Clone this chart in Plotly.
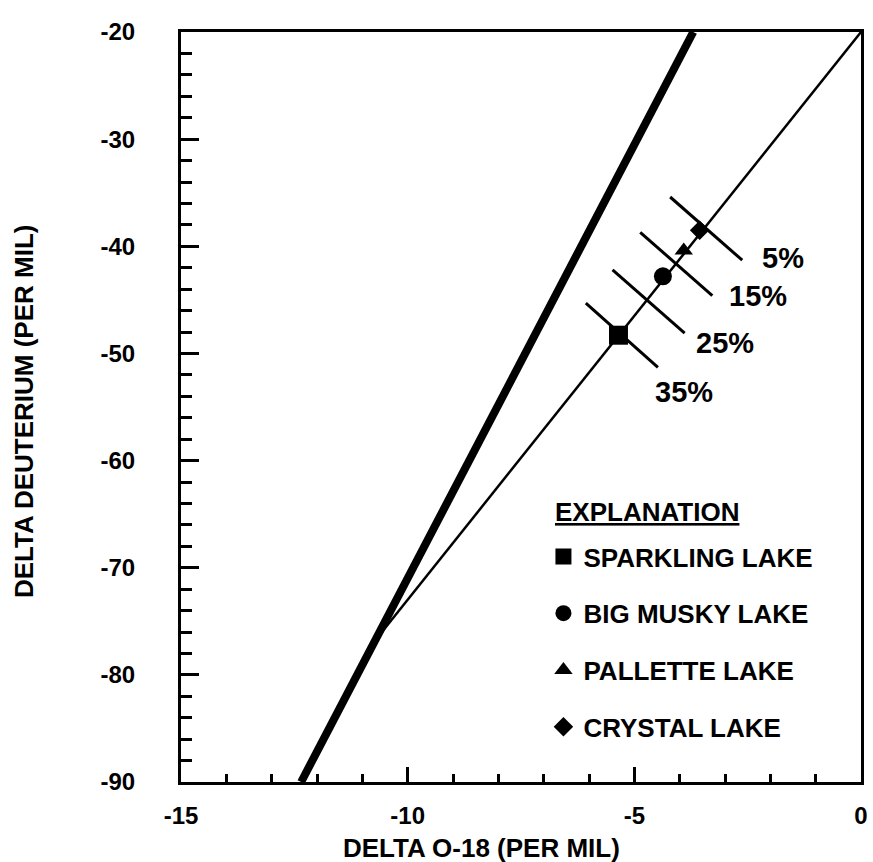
import plotly.graph_objects as go

# Lake samples (delta O-18, delta deuterium), per mil
lakes = ["SPARKLING LAKE", "BIG MUSKY LAKE", "PALLETTE LAKE", "CRYSTAL LAKE"]
lake_o18 = [-5.35, -4.37, -3.91, -3.56]
lake_dd = [-48.3, -42.8, -40.4, -38.5]
lake_symbols = ["square", "circle", "triangle-up", "diamond"]
lake_sizes = [19, 18, 16, 15]

# Meteoric water line (heavy) and evaporation line (light)
mwl_o18 = [-12.35, -3.7]
mwl_dd = [-90.0, -20.0]
evap_o18 = [-10.7, 0.0]
evap_dd = [-76.7, -20.0]

# Evaporated-fraction marks crossing the evaporation line
frac_labels = ["5%", "15%", "25%", "35%"]
frac_x0 = [-4.21, -4.87, -5.48, -6.07]
frac_y0 = [-35.4, -38.7, -42.2, -45.3]
frac_x1 = [-2.62, -3.28, -3.89, -4.48]
frac_y1 = [-41.3, -44.6, -48.1, -51.3]
frac_label_x = [-2.22, -2.95, -3.68, -4.58]
frac_label_y = [-41.1, -44.6, -49.0, -53.6]

# Axis ticks
x_ticks = [-15, -10, -5, 0]
x_tick_text = ["-15", "-10", "-5", "0"]
y_ticks = [-90, -80, -70, -60, -50, -40, -30, -20]
y_tick_text = ["-90", "-80", "-70", "-60", "-50", "-40", "-30", "-20"]

FONT = "Liberation Sans"
fig = go.Figure()

fig.add_trace(go.Scatter(x=mwl_o18, y=mwl_dd, mode="lines",
                         line=dict(color="black", width=8), showlegend=False,
                         hoverinfo="skip"))
fig.add_trace(go.Scatter(x=evap_o18, y=evap_dd, mode="lines",
                         line=dict(color="black", width=2.5), showlegend=False,
                         hoverinfo="skip"))

for x0, y0, x1, y1 in zip(frac_x0, frac_y0, frac_x1, frac_y1):
    fig.add_trace(go.Scatter(x=[x0, x1], y=[y0, y1], mode="lines",
                             line=dict(color="black", width=3),
                             showlegend=False, hoverinfo="skip"))

for name, x, y, sym, sz in zip(lakes, lake_o18, lake_dd, lake_symbols, lake_sizes):
    fig.add_trace(go.Scatter(x=[x], y=[y], mode="markers", name=name,
                             legendgroup=name,
                             marker=dict(symbol=sym, size=sz, color="black",
                                         line=dict(width=0))))

for lab, x, y in zip(frac_labels, frac_label_x, frac_label_y):
    fig.add_annotation(x=x, y=y, text=lab, showarrow=False,
                       xanchor="left", yanchor="middle",
                       font=dict(family=FONT, size=29, color="black",
                                 weight="bold"))

# Legend heading
fig.add_annotation(x=(557 - 181) / 687, y=1 - (512 - 32) / 750,
                   xref="paper", yref="paper", text="<u>EXPLANATION</u>",
                   showarrow=False, xanchor="left", yanchor="middle",
                   font=dict(family=FONT, size=26, color="black", weight="bold"))

# Axis titles
fig.add_annotation(x=(485 - 181) / 687, y=-0.088, xref="paper", yref="paper",
                   text="DELTA O-18 (PER MIL)", showarrow=False,
                   xanchor="center", yanchor="middle",
                   font=dict(family=FONT, size=26, color="black", weight="bold"))
fig.add_annotation(x=-(181 - 22) / 687, y=0.494, xref="paper", yref="paper",
                   text="DELTA DEUTERIUM (PER MIL)", showarrow=False,
                   textangle=-90, xanchor="center", yanchor="middle",
                   font=dict(family=FONT, size=26, color="black", weight="bold"))

axis_common = dict(showline=True, linecolor="black", linewidth=3, mirror=True,
                   showgrid=False, zeroline=False, ticks="inside",
                   tickcolor="black", tickwidth=3,
                   tickfont=dict(family=FONT, size=24, color="black",
                                 weight="bold"))

fig.update_xaxes(range=[-15, 0], tickvals=x_ticks, ticktext=x_tick_text,
                 ticklen=15,
                 minor=dict(dtick=1, ticks="inside", ticklen=8, tickwidth=3,
                            tickcolor="black", showgrid=False),
                 ticklabelstandoff=10, **axis_common)
fig.update_yaxes(range=[-90, -20], tickvals=y_ticks, ticktext=y_tick_text,
                 ticklen=18,
                 minor=dict(dtick=2, ticks="inside", ticklen=11, tickwidth=3,
                            tickcolor="black", showgrid=False),
                 ticklabelstandoff=38, **axis_common)

fig.update_layout(
    width=873, height=862,
    margin=dict(l=181, r=5, t=32, b=80),
    paper_bgcolor="white", plot_bgcolor="white",
    font=dict(family=FONT, color="black"),
    showlegend=True,
    legend=dict(x=0.533, y=0.332, xanchor="left", yanchor="top",
                bgcolor="rgba(0,0,0,0)", tracegroupgap=20,
                font=dict(family=FONT, size=26, color="black", weight="bold")),
)

fig.write_html("out.html")
